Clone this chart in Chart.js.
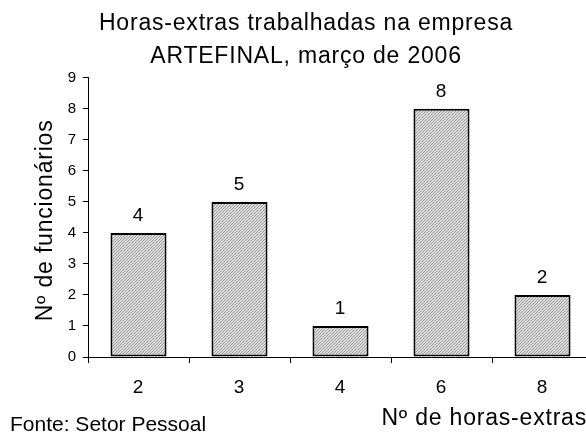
<!DOCTYPE html>
<html>
<head>
<meta charset="utf-8">
<script src="https://cdn.jsdelivr.net/npm/chart.js@4/dist/chart.umd.min.js"></script>
<style>
  html, body { margin: 0; padding: 0; background: #fff; overflow: hidden; }
  #wrap { position: relative; width: 600px; height: 433px; }
</style>
</head>
<body>
<div id="wrap"><canvas id="c" width="600" height="433"></canvas></div>
<script>
const categories = ['2', '3', '4', '6', '8'];
const funcionarios = [4, 5, 1, 8, 2];
const yTicks = [0, 1, 2, 3, 4, 5, 6, 7, 8, 9];
const titleLines = ['Horas-extras trabalhadas na empresa', 'ARTEFINAL, março de 2006'];
const yTitle = 'Nº de funcionários';
const xTitle = 'Nº de horas-extras';
const sourceNote = 'Fonte: Setor Pessoal';

const FONT = '"Liberation Sans", Arial, sans-serif';

function makePattern() {
  const t = document.createElement('canvas');
  t.width = 3; t.height = 3;
  const g = t.getContext('2d');
  g.fillStyle = '#dedede';
  g.fillRect(0, 0, 3, 3);
  g.fillStyle = '#979797';
  for (let i = 0; i < 3; i++) g.fillRect(i, 2 - i, 1, 1);
  return g.createPattern(t, 'repeat');
}

const spacing = {
  id: 'spacing',
  beforeDraw(chart) { chart.ctx.letterSpacing = '0.8px'; }
};

const extraText = {
  id: 'extraText',
  afterDatasetsDraw(chart) {
    const ctx = chart.ctx;
    const meta = chart.getDatasetMeta(0);
    ctx.save();
    ctx.fillStyle = '#000';
    ctx.font = '19px ' + FONT;
    ctx.textAlign = 'center';
    ctx.textBaseline = 'alphabetic';
    meta.data.forEach((bar, i) => {
      ctx.fillText(String(funcionarios[i]), bar.x, bar.y - 12);
    });
    // y title
    ctx.save();
    ctx.translate(52, (chart.chartArea.top + chart.chartArea.bottom) / 2 + 3);
    ctx.rotate(-Math.PI / 2);
    ctx.font = '23px ' + FONT;
    ctx.textAlign = 'center';
    ctx.fillText(yTitle, 0, 0);
    ctx.restore();
    // x title
    ctx.font = '23px ' + FONT;
    ctx.textAlign = 'right';
    ctx.fillText(xTitle, 587, 425);
    // source
    ctx.font = '21px ' + FONT;
    ctx.textAlign = 'left';
    ctx.letterSpacing = '0px';
    ctx.fillText(sourceNote, 10, 431);
    ctx.restore();
  }
};

new Chart(document.getElementById('c'), {
  type: 'bar',
  data: {
    labels: categories,
    datasets: [{
      data: funcionarios,
      backgroundColor: makePattern(),
      borderColor: '#000',
      borderWidth: 2,
      borderSkipped: false,
      barPercentage: 0.555,
      categoryPercentage: 1.0
    }]
  },
  options: {
    responsive: false,
    animation: false,
    devicePixelRatio: 1,
    layout: { padding: { left: 19, right: 7, top: 0, bottom: 0 } },
    plugins: {
      legend: { display: false },
      tooltip: { enabled: false },
      title: {
        display: true,
        text: titleLines,
        color: '#000',
        font: { family: FONT, size: 23, weight: 'normal', lineHeight: 1.43 },
        padding: { top: 7, bottom: 5 }
      }
    },
    scales: {
      x: {
        grid: { display: true, offset: true, drawOnChartArea: false, drawTicks: true, tickLength: 6, color: '#000' },
        border: { display: true, color: '#000', width: 1 },
        ticks: { color: '#000', font: { family: FONT, size: 19 }, padding: 13, maxRotation: 0 },
        afterFit(s) { s.height = 76; }
      },
      y: {
        min: 0, max: 9,
        afterBuildTicks(s) { s.ticks = yTicks.map(v => ({ value: v })); },
        grid: { display: true, drawOnChartArea: false, drawTicks: true, tickLength: 5, color: '#000' },
        border: { display: true, color: '#000', width: 1 },
        ticks: { color: '#000', font: { family: FONT, size: 15 }, padding: 6 },
        afterFit(s) { s.width = 69; }
      }
    }
  },
  plugins: [spacing, extraText]
});
</script>
</body>
</html>
